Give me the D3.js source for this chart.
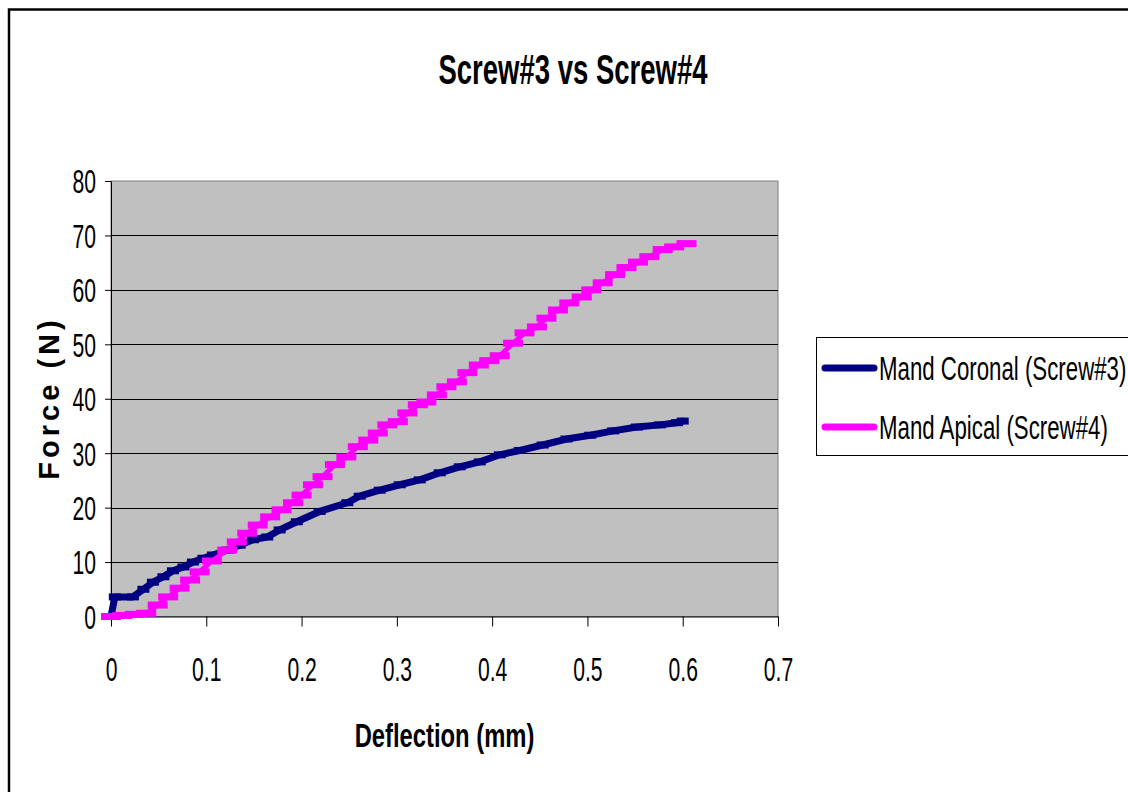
<!DOCTYPE html>
<html>
<head>
<meta charset="utf-8">
<script src="https://cdn.jsdelivr.net/npm/d3@7"></script>
<style>
  html, body { margin: 0; padding: 0; background: #fff; }
  svg { display: block; font-family: Arial, "Liberation Sans", Helvetica, sans-serif; }
</style>
</head>
<body>
<svg id="chart" width="1128" height="792"></svg>
<script>
// Force vs deflection readings for the two mandibular screws
const coronalDeflection = [0, 0.004, 0.023, 0.034, 0.044, 0.055, 0.065, 0.076, 0.086, 0.097, 0.107, 0.122, 0.135, 0.149, 0.164, 0.177, 0.195, 0.219, 0.248, 0.261, 0.282, 0.303, 0.324, 0.345, 0.366, 0.387, 0.408, 0.429, 0.453, 0.478, 0.503, 0.527, 0.552, 0.576, 0.594, 0.600];
const coronalForce      = [0, 3.6, 3.6, 5.0, 6.3, 7.3, 8.4, 9.1, 10.0, 10.7, 11.3, 12.2, 13.1, 14.1, 14.6, 15.9, 17.4, 19.3, 20.9, 22.1, 23.2, 24.2, 25.1, 26.4, 27.5, 28.4, 29.7, 30.5, 31.5, 32.6, 33.3, 34.1, 34.8, 35.2, 35.6, 35.9];

const apicalDeflection = [0, 0.012, 0.025, 0.037, 0.049, 0.060, 0.072, 0.083, 0.093, 0.106, 0.122, 0.132, 0.143, 0.154, 0.167, 0.179, 0.191, 0.200, 0.212, 0.222, 0.235, 0.247, 0.259, 0.270, 0.280, 0.290, 0.301, 0.311, 0.322, 0.331, 0.342, 0.352, 0.363, 0.374, 0.386, 0.397, 0.408, 0.422, 0.434, 0.447, 0.457, 0.469, 0.481, 0.494, 0.504, 0.516, 0.529, 0.541, 0.553, 0.565, 0.579, 0.591, 0.604];
const apicalForce      = [0, 0.2, 0.4, 0.6, 2.1, 3.6, 5.2, 6.7, 8.2, 10.2, 12.2, 13.7, 15.3, 16.8, 18.3, 19.6, 20.9, 22.3, 24.2, 25.7, 27.9, 29.3, 31.2, 32.4, 33.7, 35.2, 35.8, 37.4, 38.9, 39.4, 40.7, 42.2, 43.1, 44.8, 46.2, 47.0, 47.9, 50.2, 52.1, 53.2, 54.8, 56.3, 57.6, 58.7, 60.0, 61.3, 62.8, 64.1, 65.1, 66.1, 67.4, 67.9, 68.5];

const seriesNames = ["Mand Coronal (Screw#3)", "Mand Apical (Screw#4)"];
const seriesColors = ["#000080", "#FF00FF"];
const xTicks = [0, 0.1, 0.2, 0.3, 0.4, 0.5, 0.6, 0.7];
const yTicks = [0, 10, 20, 30, 40, 50, 60, 70, 80];
const chartTitle = "Screw#3 vs Screw#4";
const xTitle = "Deflection (mm)";
const yTitle = "Force (N)";

const svg = d3.select("#chart");
const plot = { left: 111, right: 778, top: 181, bottom: 616.5 };
const narrow = 0.64; // horizontal squeeze of the condensed lettering

const x = d3.scaleLinear().domain([0, 0.7]).range([plot.left, plot.right]);
const y = d3.scaleLinear().domain([0, 80]).range([plot.bottom, plot.top]);

// outer chart frame (only the top and left edges fall inside the page)
svg.append("path")
  .attr("d", "M9,800 V9.5 H1140")
  .attr("fill", "none").attr("stroke", "#000").attr("stroke-width", 2.5);

// title
svg.append("text")
  .attr("transform", `translate(573,84) scale(0.655,1)`)
  .attr("text-anchor", "middle")
  .attr("font-size", 42).attr("font-weight", "bold")
  .text(chartTitle);

// plot area
svg.append("rect")
  .attr("x", plot.left).attr("y", plot.top)
  .attr("width", plot.right - plot.left).attr("height", plot.bottom - plot.top)
  .attr("fill", "#C0C0C0").attr("stroke", "#808080").attr("stroke-width", 1);

// horizontal gridlines
svg.append("g").selectAll("line")
  .data(yTicks.filter(d => d > 0 && d < 80))
  .join("line")
  .attr("x1", plot.left).attr("x2", plot.right)
  .attr("y1", d => Math.round(y(d)) + 0.5).attr("y2", d => Math.round(y(d)) + 0.5)
  .attr("stroke", "#000").attr("stroke-width", 1);

// y axis
const yAxis = svg.append("g")
  .attr("transform", `translate(${plot.left},0)`)
  .call(d3.axisLeft(y).tickValues(yTicks).tickSize(6).tickSizeOuter(0).tickFormat(d3.format("d")));
yAxis.select(".domain").attr("stroke", "#000");
yAxis.selectAll(".tick line").attr("stroke", "#000");
yAxis.selectAll(".tick text")
  .attr("font-family", "Arial, 'Liberation Sans', sans-serif")
  .attr("font-size", 33).attr("fill", "#000")
  .attr("x", -15 / narrow).attr("dy", "0.36em")
  .attr("transform", `scale(${narrow},1)`);

// x axis
const xAxis = svg.append("g")
  .attr("transform", `translate(0,${plot.bottom})`)
  .call(d3.axisBottom(x).tickValues(xTicks).tickSize(10).tickSizeOuter(0).tickFormat(d => d === 0 ? "0" : d3.format(".1f")(d)));
xAxis.select(".domain").attr("stroke", "#000");
xAxis.selectAll(".tick line").attr("stroke", "#000");
xAxis.selectAll(".tick text")
  .attr("font-family", "Arial, 'Liberation Sans', sans-serif")
  .attr("font-size", 33).attr("fill", "#000")
  .attr("y", 65).attr("dy", 0)
  .attr("transform", `scale(${narrow},1)`);

// axis titles
svg.append("text")
  .attr("transform", `translate(444.5,747) scale(0.7,1)`)
  .attr("text-anchor", "middle")
  .attr("font-size", 34).attr("font-weight", "bold")
  .text(xTitle);

svg.append("text")
  .attr("transform", `translate(59,398) rotate(-90)`)
  .attr("text-anchor", "middle")
  .attr("font-size", 29).attr("font-weight", "bold")
  .attr("letter-spacing", 4)
  .text(yTitle);

// series
const series = [
  { pts: coronalDeflection.map((d, i) => [d, coronalForce[i]]), width: 7, markW: 12 },
  { pts: apicalDeflection.map((d, i) => [d, apicalForce[i]]), width: 5, markW: 20 }
];
const line = d3.line().x(d => x(d[0])).y(d => y(d[1]));

series.forEach((s, i) => {
  const g = svg.append("g");
  g.append("path")
    .datum(s.pts)
    .attr("d", line)
    .attr("fill", "none")
    .attr("stroke", seriesColors[i])
    .attr("stroke-width", s.width)
    .attr("stroke-linejoin", "round")
    .attr("stroke-linecap", "round");
  g.selectAll("rect")
    .data(s.pts)
    .join("rect")
    .attr("x", d => x(d[0]) - s.markW / 2)
    .attr("y", d => y(d[1]) - 3.5)
    .attr("width", s.markW).attr("height", 7)
    .attr("fill", seriesColors[i]);
});

// legend
const legend = svg.append("g");
legend.append("rect")
  .attr("x", 816.5).attr("y", 337.5).attr("width", 330).attr("height", 118)
  .attr("fill", "#fff").attr("stroke", "#000").attr("stroke-width", 1);
const legendRows = [368, 427];
seriesNames.forEach((name, i) => {
  legend.append("line")
    .attr("x1", 825).attr("x2", 874)
    .attr("y1", legendRows[i]).attr("y2", legendRows[i])
    .attr("stroke", seriesColors[i]).attr("stroke-width", 7)
    .attr("stroke-linecap", "round");
  legend.append("text")
    .attr("transform", `translate(879,${legendRows[i] + 12}) scale(0.655,1)`)
    .attr("font-size", 34)
    .text(name);
});
</script>
</body>
</html>
